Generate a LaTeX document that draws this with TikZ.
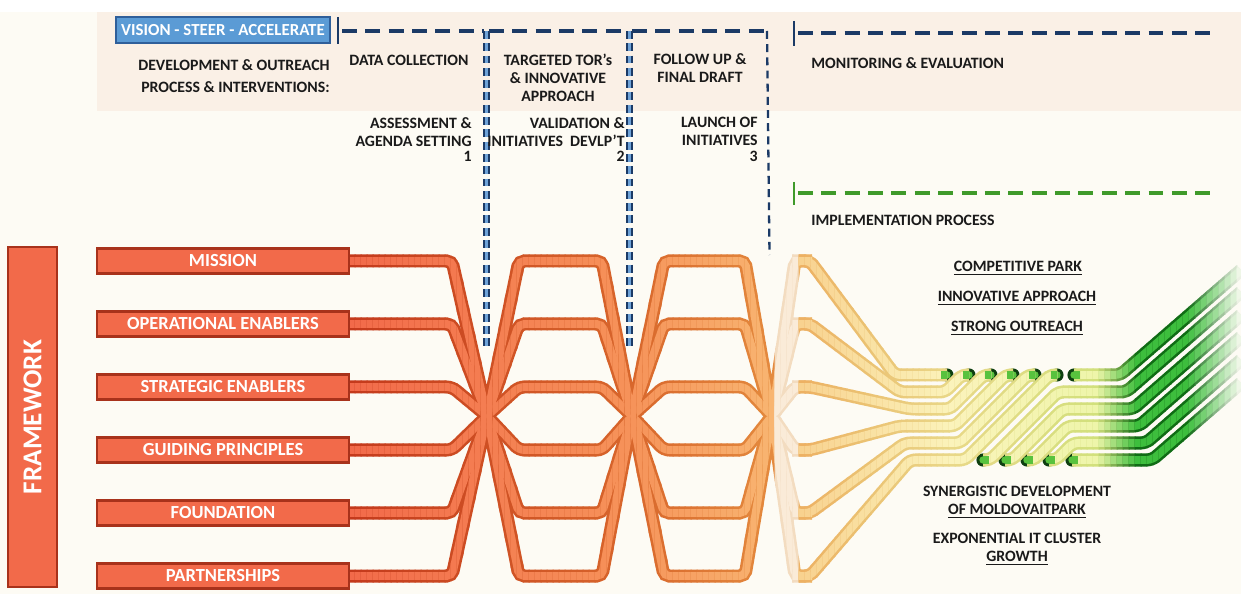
\documentclass[tikz,border=0pt]{standalone}
\usepackage{fontspec}
\setmainfont{Carlito}

\definecolor{bgcream}{HTML}{FDFBF4}
\definecolor{peach}{HTML}{FAF0E6}
\definecolor{navy}{HTML}{1B3A66}
\definecolor{skyblue}{HTML}{6FA3D8}
\definecolor{visionfill}{HTML}{5B9BD5}
\definecolor{visionrim}{HTML}{2F5F9A}
\definecolor{barfill}{HTML}{F26A4A}
\definecolor{barrim}{HTML}{A8321B}
\definecolor{dashgreen}{HTML}{3F9A2A}
\definecolor{inktext}{HTML}{1A1A1A}
\definecolor{tipdark}{HTML}{0E3F10}
\definecolor{tipgreen}{HTML}{58C23E}
% band colour stops, edge (e) and fill (f)
\definecolor{ea}{HTML}{C43A1C}\definecolor{fa}{HTML}{F26A4A}
\definecolor{eb}{HTML}{D8672C}\definecolor{fb}{HTML}{F6935A}
\definecolor{ec}{HTML}{E48A3E}\definecolor{fc}{HTML}{F8B571}
\definecolor{ed}{HTML}{F3DCC0}\definecolor{fd}{HTML}{FAEBD8}
\definecolor{ef}{HTML}{EDB062}\definecolor{ff}{HTML}{F8D18E}
\definecolor{eg}{HTML}{E9D888}\definecolor{fg}{HTML}{FBF3BB}
\definecolor{eh}{HTML}{D2E07C}\definecolor{fh}{HTML}{EEF5AA}
\definecolor{ei}{HTML}{106C15}\definecolor{fi}{HTML}{3DBE3D}
\definecolor{ek}{HTML}{FDFBF4}\definecolor{fk}{HTML}{FDFBF4}

\tikzset{
  barbox/.style={draw=barrim, fill=barfill, line width=1.2pt, minimum width=5.04cm,
    minimum height=0.5cm, inner sep=0pt, text=white, font=\bfseries\fontsize{10.5}{12}\selectfont},
  framebox/.style={barbox, minimum width=6.8cm, minimum height=0.98cm, rotate=90,
    font=\bfseries\fontsize{15.5}{18}\selectfont},
  visionbox/.style={draw=visionrim, fill=visionfill, line width=1.1pt, minimum width=4.28cm,
    minimum height=0.52cm, inner sep=0pt, text=white, font=\bfseries\fontsize{9.6}{11}\selectfont},
  txt/.style={text=inktext, inner sep=0pt, font=\bfseries\fontsize{9}{10.3}\selectfont},
  hdash/.style={navy, line width=2.5pt, dash pattern=on 8.5pt off 4.8pt},
  vdash/.style={navy, line width=1.3pt, double=skyblue, double distance=1.6pt, dash pattern=on 4.5pt off 2.5pt},
  vtick/.style={navy, line width=1.6pt},
  bandedge/.style={edgec, line width=7.4pt, rounded corners=3pt},
  bandfill/.style={fillc, line width=4.5pt, rounded corners=3pt},
  tipstrip/.style={tipgreen, line width=4.5pt},
}

% the three families of bands
\newcommand\leftbands[1]{%
  \foreach \b/\y in {mission/261,operational/324,strategic/387,guiding/450,foundation/513,partnerships/576}
    \draw[#1] (\b.east) -- (452,\y) -- (487,416) -- (519,\y) -- (602,\y) -- (632,416)
      -- (664,\y) -- (745,\y) -- (772,416) -- (795,\y) -- (812,\y);}
\newcommand\rightbands[1]{%
  \foreach \y/\lv/\xin/\tx/\hx in {261/375/895/930/940,324/392/900/945/962,387/409/910/950/984,
      450/426/900/955/1006,513/443/905/960/1028,576/460/910/965/1050}
    \draw[#1] (792,\y) -- (810,\y) -- (\xin,\lv) -- (\tx,\lv) -- (\hx,375) -- (\hx+7,375);}
\newcommand\greenbands[1]{%
  \foreach \sx/\sy/\rx/\lv/\ox/\ey in {1074/375/1100/375/1120/270,983/460/1058/392/1126/292,
      1005/460/1063/409/1133/315,1027/460/1068/426/1139/337,1049/460/1073/443/1146/360,
      1072/460/1110/460/1152/383}
    \draw[#1] (\sx,\sy) -- (\sx+7,\sy) -- (\rx,\lv) -- (\ox,\lv) -- (1241,\ey);}

\begin{document}
\begin{tikzpicture}[x=0.02cm, y=-0.02cm]
\useasboundingbox (0,0) rectangle (1241,594);
\fill[bgcream] (0,0) rectangle (1241,594);
\fill[white] (0,0) rectangle (1241,12);
\fill[peach] (97,12) rectangle (1241,111);

% framework column and bars
\node[framebox] (framework) at (32.5,417) {FRAMEWORK};
\foreach \b/\lab/\y in {mission/MISSION/261, operational/OPERATIONAL ENABLERS/324,
    strategic/STRATEGIC ENABLERS/387, guiding/GUIDING PRINCIPLES/450,
    foundation/FOUNDATION/513, partnerships/PARTNERSHIPS/576}
  \node[barbox] (\b) at (223,\y) {\lab};

% rounded ends (half hidden under the bands)
\foreach \ex/\ey in {947/375,969/375,991/375,1013/375,1035/375,1057/375,
    1074/375,983/460,1005/460,1027/460,1049/460,1072/460} {
  \fill[tipdark] (\ex,\ey) circle (3.75pt);
  \fill[tipgreen] (\ex,\ey) circle (2.1pt);
}

% bands, coloured slice by slice
\foreach \x in {349,355,...,1237} {
  \pgfmathtruncatemacro\seg{(\x>=631)+(\x>=771)+(\x>=796)+(\x>=950)+(\x>=1095)+(\x>=1135)+(\x>=1185)}
  \pgfmathsetmacro\pa{{349,631,771,796,950,1095,1135,1185}[\seg]}
  \pgfmathsetmacro\pb{{631,771,796,950,1095,1135,1185,1241}[\seg]}
  \pgfmathtruncatemacro\pct{((\pb-\x)/(\pb-\pa))*100}
  \edef\ca{\ifcase\seg a\or b\or d\or f\or g\or h\or i\or i\fi}
  \edef\cb{\ifcase\seg b\or c\or d\or g\or h\or i\or i\or k\fi}
  \colorlet{edgec}{e\ca!\pct!e\cb}
  \colorlet{fillc}{f\ca!\pct!f\cb}
  \begin{scope}
    \clip (\x-0.5,0) rectangle (\x+6.5,594);
    \ifnum\x<812 \leftbands{bandedge}\fi
    \ifnum\x>785 \ifnum\x<1060 \rightbands{bandedge}\fi\fi
    \ifnum\x>975 \greenbands{bandedge}\fi
    \ifnum\x<812 \leftbands{bandfill}\fi
    \ifnum\x>785 \ifnum\x<1060 \rightbands{bandfill}\fi\fi
    \ifnum\x>975 \greenbands{bandfill}\fi
  \end{scope}
}

% green glow just inside each end
\foreach \hx in {940,962,984,1006,1028,1050}
  \draw[tipstrip] (\hx+1,375) -- (\hx+7,375);
\foreach \sx/\sy in {1074/375,983/460,1005/460,1027/460,1049/460,1072/460}
  \draw[tipstrip] (\sx,\sy) -- (\sx+6,\sy);

% process frames
\node[visionbox] (vision) at (223,30) {VISION - STEER - ACCELERATE};
\draw[vtick] (338,17) -- (338,44);
\draw[hdash] (342,31) -- (484,31);
\draw[vdash] (486.5,31) -- (486.5,350);
\draw[hdash] (489,31) -- (627,31);
\draw[vdash] (629.5,31) -- (629.5,350);
\draw[hdash] (632,31) -- (767,31);
\draw[navy, line width=1.3pt, dash pattern=on 4.5pt off 3pt] (767,31) -- (769.5,255);
\draw[vtick] (794,21) -- (794,46);
\draw[hdash] (798,33) -- (1210,33);
\draw[vtick, dashgreen] (794,182) -- (794,205);
\draw[hdash, dashgreen] (798,193) -- (1210,193);

% texts
\node[txt, align=right, anchor=east] (devproc) at (330,76) {DEVELOPMENT \& OUTREACH\\[2pt]PROCESS \& INTERVENTIONS:};
\node[txt] (datacoll) at (409,60) {DATA COLLECTION};
\node[txt, align=right, anchor=north east] (assess) at (472,117) {ASSESSMENT \&\\AGENDA SETTING\\[-1.5pt]1};
\node[txt, align=center] (tors) at (558,77.5) {TARGETED TOR’s\\\& INNOVATIVE\\APPROACH};
\node[txt, align=right, anchor=north east] (valid) at (625,117) {VALIDATION \&\\INITIATIVES\hspace{4pt}DEVLP’T\\[-1.5pt]2};
\node[txt, align=center] (follow) at (700,68) {FOLLOW UP \&\\FINAL DRAFT};
\node[txt, align=right, anchor=north east] (launch) at (758,117) {LAUNCH OF\\INITIATIVES\\[-1.5pt]3};
\node[txt, anchor=west] (monitor) at (811,63) {MONITORING \& EVALUATION};
\node[txt, anchor=west] (implement) at (811,220) {IMPLEMENTATION PROCESS};
\node[txt] (competitive) at (1018,268) {\underline{COMPETITIVE PARK}};
\node[txt] (innovative) at (1017,298) {\underline{INNOVATIVE APPROACH}};
\node[txt] (outreach) at (1017,328) {\underline{STRONG OUTREACH}};
\node[txt, align=center] (synergy) at (1017,502) {SYNERGISTIC DEVELOPMENT\\\underline{OF MOLDOVAITPARK}};
\node[txt, align=center] (growth) at (1017,549) {EXPONENTIAL IT CLUSTER\\\underline{GROWTH}};
\end{tikzpicture}
\end{document}
